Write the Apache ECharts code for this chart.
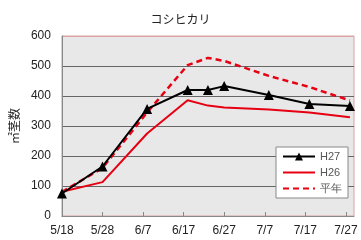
<!DOCTYPE html>
<html>
<head>
<meta charset="utf-8">
<script src="https://cdn.jsdelivr.net/npm/echarts@6/dist/echarts.min.js"></script>
<style>
  html, body { margin: 0; padding: 0; background: #fff; }
  #chart { width: 361px; height: 240px; }
</style>
</head>
<body>
<div id="chart"></div>
<script>
// 5/18 からの経過日数
const days = [0, 10, 21, 31, 36, 40, 51, 61, 71];
const h27 = [75, 165, 357, 420, 420, 433, 403, 373, 367];
const h26 = [81, 113, 275, 386, 368, 362, 355, 345, 329];
const heinen = [80, 160, 345, 503, 527, 517, 467, 430, 385];
const xLabels = ['5/18', '5/28', '6/7', '6/17', '6/27', '7/7', '7/17', '7/27'];

const pair = (vals) => days.map((d, i) => [d, vals[i]]);

const chart = echarts.init(document.getElementById('chart'));

chart.setOption({
  animation: false,
  title: {
    text: 'コシヒカリ',
    left: 'center',
    top: 8,
    textStyle: { fontSize: 12, fontWeight: 'normal', color: '#222', fontFamily: 'Noto Sans CJK JP' }
  },
  grid: {
    left: 53, right: 7, top: 36, bottom: 24,
    show: true,
    backgroundColor: '#e8e8e8',
    borderColor: '#dba3a3',
    borderWidth: 1
  },
  legend: {
    orient: 'vertical',
    left: 276, top: 147,
    itemWidth: 32, itemHeight: 10, itemGap: 5,
    padding: [4, 6, 4, 6],
    backgroundColor: '#fff',
    borderColor: '#888',
    borderWidth: 1,
    textStyle: { fontSize: 11, color: '#555', fontFamily: 'Liberation Sans' },
    data: [
      'H27',
      { name: 'H26', itemStyle: { opacity: 0 } },
      { name: '平年', itemStyle: { opacity: 0 } }
    ]
  },
  xAxis: {
    type: 'value',
    min: 0, max: 72, interval: 10,
    axisLine: { lineStyle: { color: '#888' } },
    axisTick: { inside: true, length: 4, lineStyle: { color: '#888' } },
    splitLine: { show: false },
    axisLabel: {
      margin: 9,
      fontSize: 12, color: '#222', fontFamily: 'Liberation Sans',
      formatter: (v) => xLabels[v / 10] || '',
      showMaxLabel: false
    }
  },
  yAxis: {
    type: 'value',
    min: 0, max: 600, interval: 100,
    name: '㎡茎数',
    nameLocation: 'middle',
    nameRotate: 90,
    nameGap: 38,
    nameTextStyle: { fontSize: 12, color: '#222', fontFamily: 'Noto Sans CJK JP' },
    axisLine: { show: true, lineStyle: { color: '#888' } },
    axisTick: { show: false },
    axisLabel: { margin: 11, fontSize: 12, color: '#222', fontFamily: 'Liberation Sans' },
    splitLine: {
      lineStyle: { color: ['#888', '#666', '#666', '#666', '#666', '#666', '#dba3a3'], width: 1 }
    }
  },
  series: [
    {
      name: 'H27', type: 'line', data: pair(h27),
      symbol: 'triangle', symbolSize: 10,
      lineStyle: { color: '#000', width: 2 },
      itemStyle: { color: '#000' },
      z: 4
    },
    {
      name: 'H26', type: 'line', data: pair(h26),
      symbol: 'none',
      lineStyle: { color: '#e60012', width: 2 },
      itemStyle: { color: '#e60012' },
      z: 2
    },
    {
      name: '平年', type: 'line', data: pair(heinen),
      symbol: 'none',
      lineStyle: { color: '#e60012', width: 2.5, type: [6, 4] },
      itemStyle: { color: '#e60012' },
      z: 3
    }
  ]
});
</script>
</body>
</html>
